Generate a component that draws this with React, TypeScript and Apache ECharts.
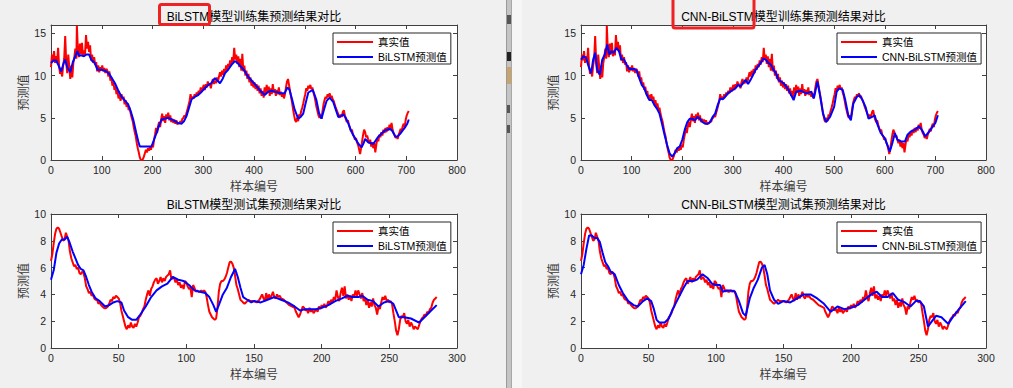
import React, { useEffect, useRef } from "react";
import * as echarts from "echarts";

// ---------------- data (sample index, value) ----------------
const trainTrue: [number, number][] = [
  [0, 11.0], [2, 12.5], [4, 11.8], [6, 12.9], [8, 11.5], [10, 12.3], [12, 11.6], [14, 13.3], [16, 11.0], [18, 10.2],
  [20, 10.6], [22, 9.9], [24, 11.2], [26, 12.0], [28, 14.7], [30, 11.5], [32, 10.3], [34, 12.5], [36, 11.0], [38, 9.6],
  [40, 11.2], [42, 9.8], [44, 11.5], [46, 12.2], [48, 13.2], [50, 12.0], [51, 15.9], [53, 13.0], [55, 12.2], [57, 13.8],
  [59, 12.5], [61, 13.9], [63, 12.3], [65, 13.0], [67, 12.4], [69, 14.8], [71, 13.2], [73, 14.0], [75, 12.8], [77, 13.6],
  [79, 11.8], [81, 12.5], [83, 11.5], [85, 12.2], [87, 11.3], [89, 11.6], [91, 10.5], [93, 11.2], [95, 10.4], [97, 11.0],
  [99, 10.6], [101, 11.2], [103, 10.5], [105, 10.9], [107, 10.3], [109, 10.8], [111, 10.6], [113, 9.9], [115, 10.5], [117, 9.4],
  [119, 9.8], [121, 8.8], [123, 9.2], [125, 8.3], [127, 8.7], [129, 7.8], [131, 8.2], [133, 7.3], [135, 7.7], [137, 7.0],
  [139, 7.8], [141, 7.2], [143, 7.5], [145, 6.6], [147, 7.1], [149, 6.3], [151, 6.7], [153, 5.9], [155, 6.2], [157, 5.5],
  [159, 5.0], [161, 4.6], [163, 3.9], [165, 3.3], [167, 2.8], [169, 2.0], [171, 1.4], [173, 0.9], [175, 0.3], [177, 0.0],
  [179, 0.0], [181, 0.1], [183, 0.4], [185, 0.8], [187, 1.2], [189, 0.9], [191, 1.4], [193, 1.1], [195, 1.6], [197, 1.2],
  [199, 1.8], [201, 1.5], [203, 2.4], [205, 3.0], [207, 3.8], [209, 3.2], [211, 4.0], [213, 4.5], [215, 3.9], [217, 4.8],
  [219, 5.5], [221, 4.6], [223, 5.2], [225, 4.4], [227, 5.4], [229, 4.9], [231, 5.6], [233, 4.7], [235, 5.3], [237, 4.5],
  [239, 4.9], [241, 4.4], [243, 4.8], [245, 4.3], [247, 4.7], [249, 4.2], [251, 4.4], [253, 4.3], [255, 4.6], [257, 4.5],
  [259, 4.9], [261, 5.0], [263, 5.3], [265, 5.1], [267, 5.6], [269, 6.0], [271, 6.5], [273, 7.0], [275, 7.8], [277, 7.2],
  [279, 7.5], [281, 7.3], [283, 7.8], [285, 7.5], [287, 8.0], [289, 7.7], [291, 8.2], [293, 7.9], [295, 8.6], [297, 8.1],
  [299, 8.5], [301, 8.9], [303, 8.3], [305, 9.0], [307, 8.6], [309, 9.3], [311, 8.9], [313, 9.0], [315, 8.5], [317, 9.2],
  [319, 9.6], [321, 9.0], [323, 9.4], [325, 9.1], [327, 9.8], [329, 9.3], [331, 9.9], [333, 10.4], [335, 9.9], [337, 10.6],
  [339, 10.1], [341, 10.8], [343, 10.3], [345, 11.2], [347, 10.7], [349, 11.4], [351, 11.0], [353, 11.8], [355, 11.3], [357, 12.2],
  [359, 11.6], [361, 13.3], [363, 11.9], [365, 12.5], [367, 11.4], [369, 12.3], [371, 11.0], [373, 12.0], [375, 10.6], [377, 12.6],
  [379, 10.5], [381, 11.2], [383, 10.0], [385, 10.6], [387, 9.6], [389, 10.2], [391, 9.2], [393, 9.8], [395, 8.8], [397, 9.4],
  [399, 8.6], [401, 9.2], [403, 8.4], [405, 9.0], [407, 8.2], [409, 8.8], [411, 7.9], [413, 8.5], [415, 7.6], [417, 8.2],
  [419, 7.4], [421, 8.6], [423, 7.8], [425, 8.9], [427, 8.0], [429, 8.7], [431, 7.6], [433, 8.5], [435, 7.8], [437, 9.0],
  [439, 8.0], [441, 8.4], [443, 7.6], [445, 8.3], [447, 7.8], [449, 8.6], [451, 7.7], [453, 8.1], [455, 7.5], [457, 7.9],
  [459, 7.3], [461, 7.8], [463, 8.6], [465, 9.3], [467, 9.6], [469, 8.9], [471, 8.2], [473, 7.5], [475, 6.8], [477, 6.0],
  [479, 5.3], [481, 4.7], [483, 4.5], [485, 5.0], [487, 4.6], [489, 5.4], [491, 5.2], [493, 5.8], [495, 6.2], [497, 6.7],
  [499, 7.3], [501, 7.8], [503, 8.5], [505, 8.2], [507, 8.8], [509, 8.5], [511, 8.9], [513, 8.4], [515, 8.6], [517, 8.0],
  [519, 7.6], [521, 7.0], [523, 6.3], [525, 5.8], [527, 5.3], [529, 5.0], [531, 5.3], [533, 4.9], [535, 5.8], [537, 6.6],
  [539, 7.1], [541, 7.5], [543, 7.3], [545, 7.8], [547, 7.5], [549, 7.9], [551, 7.4], [553, 7.6], [555, 7.2], [557, 7.0],
  [559, 6.6], [561, 6.2], [563, 5.9], [565, 5.6], [567, 5.3], [569, 5.0], [571, 5.4], [573, 5.1], [575, 5.7], [577, 5.9],
  [579, 5.3], [581, 4.8], [583, 4.5], [585, 4.7], [587, 4.2], [589, 3.8], [591, 3.4], [593, 3.6], [595, 3.0], [597, 2.8],
  [599, 2.4], [601, 2.6], [603, 2.1], [605, 1.8], [607, 1.3], [609, 0.7], [611, 1.4], [613, 2.2], [615, 3.0], [617, 3.6],
  [619, 3.3], [621, 2.7], [623, 2.9], [625, 2.4], [627, 2.0], [629, 2.4], [631, 1.6], [633, 2.1], [635, 1.4], [637, 2.0],
  [639, 0.9], [641, 1.8], [643, 2.6], [645, 2.2], [647, 3.0], [649, 2.7], [651, 3.3], [653, 2.9], [655, 3.6], [657, 3.2],
  [659, 3.8], [661, 3.3], [663, 3.9], [665, 3.5], [667, 4.2], [669, 3.7], [671, 4.4], [673, 3.6], [675, 3.2], [677, 3.0],
  [679, 2.6], [681, 2.8], [683, 2.5], [685, 3.0], [687, 3.3], [689, 3.7], [691, 3.4], [693, 4.0], [695, 4.3], [697, 3.9],
  [699, 4.8], [701, 5.3], [703, 5.6], [705, 5.8],
];

const bilstmTrain: [number, number][] = [
  [0, 11.5], [5, 11.8], [10, 11.8], [15, 11.2], [20, 10.5], [25, 11.5], [28, 11.9], [32, 11.0], [38, 10.4], [43, 11.6],
  [48, 12.3], [52, 12.9], [55, 12.4], [60, 12.4], [65, 12.3], [70, 12.5], [75, 12.5], [80, 11.8], [85, 11.6], [92, 10.7],
  [100, 10.7], [109, 10.5], [115, 10.2], [120, 9.7], [126, 9.1], [132, 8.3], [139, 7.5], [145, 7.1], [152, 6.6], [157, 5.8],
  [162, 4.8], [168, 3.2], [172, 2.2], [175, 1.6], [198, 1.6], [203, 2.4], [208, 3.2], [213, 4.1], [218, 4.8], [224, 4.9],
  [231, 5.0], [238, 4.8], [244, 4.6], [250, 4.4], [257, 4.3], [262, 4.6], [267, 5.2], [272, 6.2], [277, 7.2], [284, 7.5],
  [290, 7.7], [297, 8.1], [303, 8.5], [310, 8.9], [316, 9.1], [323, 9.7], [328, 9.4], [333, 9.1], [338, 9.6], [343, 10.3],
  [349, 10.7], [356, 11.3], [362, 11.7], [366, 11.6], [372, 11.2], [380, 10.7], [388, 9.9], [400, 9.1], [411, 8.3], [421, 7.7],
  [428, 8.1], [435, 8.2], [441, 8.1], [448, 8.0], [454, 7.9], [460, 7.9], [466, 8.6], [470, 8.3], [475, 7.2], [480, 6.0],
  [487, 4.9], [492, 5.1], [497, 5.5], [502, 6.8], [507, 8.0], [516, 8.3], [523, 7.1], [528, 5.6], [533, 4.9], [538, 6.0],
  [543, 7.0], [549, 7.4], [556, 6.9], [561, 6.0], [566, 5.1], [571, 5.2], [576, 5.4], [581, 5.0], [586, 4.3], [591, 3.5],
  [596, 2.9], [601, 2.4], [606, 1.9], [612, 1.5], [616, 2.0], [619, 2.5], [625, 2.1], [635, 1.9], [644, 2.7], [651, 3.1],
  [658, 3.5], [668, 3.7], [673, 3.4], [678, 2.8], [683, 2.8], [688, 3.1], [693, 3.5], [698, 3.9], [702, 4.3], [705, 4.8],
];

const cnnTrain: [number, number][] = [
  [0, 11.9], [5, 12.3], [10, 12.1], [15, 11.1], [20, 10.3], [24, 11.9], [28, 12.7], [32, 10.7], [37, 10.1], [42, 11.9],
  [47, 12.5], [52, 13.7], [56, 12.5], [60, 12.9], [65, 12.7], [70, 13.3], [75, 12.9], [80, 11.9], [85, 11.9], [90, 11.3],
  [95, 10.8], [100, 10.8], [105, 10.8], [110, 10.6], [115, 9.7], [120, 8.9], [125, 8.5], [130, 7.7], [135, 7.1], [140, 7.1],
  [145, 6.5], [150, 6.1], [155, 5.5], [160, 4.3], [165, 3.0], [170, 1.8], [175, 0.8], [180, 0.4], [185, 0.8], [190, 1.4],
  [195, 1.6], [200, 2.4], [205, 3.6], [210, 4.5], [215, 4.9], [220, 4.9], [225, 4.7], [230, 5.1], [235, 4.9], [240, 4.5],
  [245, 4.3], [250, 4.3], [255, 4.5], [260, 5.1], [265, 5.5], [270, 6.5], [275, 7.3], [280, 7.2], [285, 7.5], [290, 7.9],
  [295, 8.1], [300, 8.3], [305, 8.5], [310, 8.9], [315, 8.7], [320, 9.1], [325, 9.5], [330, 9.0], [335, 9.5], [340, 10.1],
  [345, 10.7], [350, 11.1], [355, 11.5], [360, 12.0], [365, 11.9], [370, 11.5], [375, 11.3], [380, 10.7], [385, 10.3], [390, 9.5],
  [400, 9.1], [410, 8.3], [420, 7.1], [425, 8.1], [435, 8.2], [445, 7.9], [455, 8.1], [460, 7.3], [467, 9.3], [472, 7.7],
  [478, 5.5], [484, 4.5], [492, 5.1], [500, 6.3], [505, 8.1], [510, 8.5], [517, 8.3], [522, 7.1], [528, 5.3], [533, 4.7],
  [538, 6.7], [545, 7.5], [550, 7.7], [556, 7.1], [562, 6.3], [568, 4.9], [575, 5.1], [580, 5.3], [585, 4.3], [592, 3.2],
  [600, 2.6], [605, 1.8], [610, 1.0], [615, 2.0], [620, 3.2], [625, 2.4], [632, 2.2], [640, 2.2], [645, 3.0], [652, 3.4],
  [660, 3.6], [668, 4.0], [675, 3.4], [680, 2.8], [688, 3.4], [695, 4.0], [700, 4.4], [705, 5.3],
];

const testTrue: [number, number][] = [
  [0, 6.5], [1, 7.0], [2, 7.8], [3, 8.5], [4, 8.9], [5, 9.0], [6, 8.9], [7, 8.6], [8, 8.3], [9, 8.0],
  [10, 8.1], [11, 8.6], [12, 8.3], [13, 8.0], [14, 7.2], [15, 6.7], [16, 6.4], [17, 6.1], [18, 6.2], [19, 5.9],
  [20, 6.0], [21, 5.6], [22, 5.5], [23, 5.7], [24, 5.6], [25, 5.2], [26, 4.6], [27, 4.4], [28, 4.1], [29, 4.2],
  [30, 3.9], [31, 4.0], [32, 3.7], [33, 3.6], [34, 3.6], [35, 3.3], [36, 3.4], [37, 3.2], [38, 3.1], [39, 3.0],
  [40, 2.95], [41, 3.0], [42, 3.1], [43, 3.3], [44, 3.6], [45, 3.5], [46, 3.8], [47, 3.7], [48, 3.9], [49, 3.8],
  [50, 3.7], [51, 3.4], [52, 2.8], [53, 2.4], [54, 2.0], [55, 1.6], [56, 1.4], [57, 1.7], [58, 1.5], [59, 1.9],
  [60, 1.6], [61, 1.5], [62, 1.8], [63, 1.6], [64, 1.9], [65, 2.3], [66, 2.4], [67, 2.6], [68, 2.9], [69, 3.1],
  [70, 3.6], [71, 4.0], [72, 4.3], [73, 3.9], [74, 4.4], [75, 4.6], [76, 4.9], [77, 5.1], [78, 5.2], [79, 4.8],
  [80, 5.0], [81, 5.3], [82, 4.9], [83, 5.2], [84, 5.0], [85, 5.3], [86, 5.4], [87, 5.5], [88, 5.8], [89, 5.1],
  [90, 5.3], [91, 5.2], [92, 4.9], [93, 5.1], [94, 4.7], [95, 4.9], [96, 4.5], [97, 4.7], [98, 4.4], [99, 5.0],
  [100, 4.9], [101, 4.6], [102, 4.4], [103, 4.5], [104, 3.8], [105, 4.7], [106, 4.5], [107, 4.2], [108, 4.3], [109, 4.2],
  [110, 4.2], [111, 4.3], [112, 4.2], [113, 4.3], [114, 4.2], [115, 3.8], [116, 3.2], [117, 2.7], [118, 2.5], [119, 2.3],
  [120, 2.2], [121, 2.1], [122, 2.2], [123, 3.0], [124, 4.2], [125, 4.8], [126, 5.0], [127, 5.0], [128, 5.1], [129, 5.3],
  [130, 5.6], [131, 6.0], [132, 6.4], [133, 6.45], [134, 6.3], [135, 6.0], [136, 5.4], [137, 4.7], [138, 4.4], [139, 4.0],
  [140, 3.6], [141, 3.5], [142, 3.4], [143, 3.3], [144, 3.4], [145, 3.5], [146, 3.6], [147, 3.5], [150, 3.5], [152, 3.4],
  [154, 3.6], [156, 4.0], [157, 3.7], [158, 3.5], [159, 4.1], [160, 3.6], [161, 4.0], [162, 3.7], [163, 3.9], [164, 4.2],
  [165, 3.8], [166, 3.7], [167, 4.0], [168, 3.8], [169, 3.9], [170, 3.7], [172, 3.6], [174, 3.4], [176, 3.2], [178, 3.1],
  [180, 3.0], [181, 2.7], [183, 2.3], [184, 2.5], [185, 2.8], [186, 3.1], [187, 3.0], [188, 2.8], [189, 2.9], [190, 2.6],
  [191, 3.0], [192, 2.7], [193, 2.9], [194, 2.6], [196, 2.9], [197, 2.7], [198, 3.1], [199, 2.9], [200, 3.2], [201, 3.0],
  [202, 3.3], [203, 3.0], [204, 3.2], [205, 3.5], [206, 3.3], [207, 3.6], [208, 3.4], [209, 3.8], [210, 3.6], [211, 4.3],
  [212, 3.8], [213, 3.5], [214, 4.1], [215, 4.5], [216, 3.9], [217, 4.6], [218, 3.7], [219, 4.0], [220, 3.6], [221, 3.9],
  [222, 3.5], [223, 4.0], [224, 3.8], [225, 4.3], [226, 3.9], [227, 4.3], [228, 4.0], [229, 3.7], [230, 4.1], [231, 3.5],
  [232, 3.7], [233, 3.2], [234, 3.6], [235, 3.0], [236, 3.4], [237, 3.1], [238, 3.7], [239, 3.2], [240, 3.0], [241, 2.5],
  [242, 3.1], [243, 2.9], [244, 3.4], [245, 3.8], [246, 3.6], [247, 3.9], [248, 3.5], [249, 3.6], [250, 3.4], [251, 3.5],
  [252, 3.3], [253, 2.6], [254, 2.0], [255, 1.3], [256, 0.95], [257, 1.4], [258, 2.1], [259, 2.4], [260, 2.3], [261, 2.6],
  [262, 2.0], [263, 1.8], [264, 2.1], [265, 1.6], [266, 1.9], [267, 1.7], [268, 1.4], [269, 1.6], [270, 1.5], [271, 1.4],
  [272, 1.7], [273, 2.0], [274, 2.2], [275, 2.3], [276, 2.5], [277, 2.4], [278, 2.7], [279, 2.6], [280, 2.9], [281, 3.0],
  [282, 3.4], [283, 3.6], [284, 3.7], [285, 3.8],
];

const bilstmTest: [number, number][] = [
  [0, 5.1], [2, 5.8], [4, 7.1], [6, 7.8], [8, 8.1], [10, 8.1], [12, 8.3], [14, 7.8], [16, 7.2], [18, 6.7],
  [20, 6.2], [22, 5.9], [24, 5.8], [26, 5.3], [28, 4.7], [30, 4.2], [33, 3.7], [36, 3.5], [40, 3.1], [43, 3.2],
  [46, 3.4], [49, 3.5], [52, 3.4], [54, 2.8], [57, 2.3], [60, 2.1], [63, 2.1], [66, 2.5], [70, 3.1], [74, 3.8],
  [78, 4.3], [82, 4.6], [86, 4.8], [90, 5.3], [94, 5.1], [98, 5.0], [102, 4.7], [106, 4.3], [110, 4.2], [114, 4.1],
  [117, 3.8], [120, 3.2], [122, 2.7], [124, 3.2], [127, 4.0], [130, 4.5], [133, 5.3], [136, 5.9], [138, 5.3], [140, 4.5],
  [142, 3.8], [145, 3.6], [148, 3.4], [150, 3.5], [155, 3.4], [160, 3.6], [165, 3.8], [170, 3.6], [175, 3.4], [180, 3.1],
  [184, 2.8], [188, 2.9], [192, 2.9], [196, 2.9], [200, 3.0], [205, 3.2], [210, 3.5], [215, 3.7], [219, 3.9], [223, 3.8],
  [227, 3.8], [230, 3.9], [234, 3.6], [238, 3.5], [242, 3.1], [246, 3.4], [250, 3.5], [253, 3.3], [257, 2.3], [261, 2.3],
  [266, 2.2], [272, 1.9], [276, 2.3], [280, 2.7], [285, 3.2],
];

const cnnTest: [number, number][] = [
  [0, 5.5], [2, 6.2], [4, 7.4], [6, 8.4], [8, 8.4], [10, 8.2], [12, 8.2], [14, 7.9], [16, 7.1], [18, 6.4],
  [20, 6.1], [22, 5.7], [25, 5.5], [28, 4.7], [31, 4.1], [35, 3.5], [39, 3.2], [42, 3.1], [46, 3.5], [49, 3.7],
  [52, 3.5], [54, 2.9], [56, 2.1], [58, 1.9], [62, 1.9], [65, 2.2], [68, 2.9], [72, 3.7], [76, 4.5], [79, 5.0],
  [83, 5.0], [86, 5.1], [90, 5.5], [94, 5.2], [97, 4.8], [100, 4.7], [103, 4.7], [105, 4.2], [108, 4.3], [111, 4.3],
  [114, 4.2], [117, 3.5], [120, 2.6], [122, 2.4], [125, 3.7], [128, 4.5], [131, 5.1], [134, 6.0], [136, 6.2], [138, 5.5],
  [140, 4.3], [143, 3.6], [146, 3.3], [150, 3.5], [155, 3.4], [160, 3.7], [165, 4.0], [170, 4.0], [175, 3.7], [180, 3.3],
  [185, 2.7], [190, 3.1], [195, 2.9], [200, 3.0], [205, 3.2], [210, 3.6], [215, 4.0], [219, 4.2], [223, 3.8], [227, 3.8],
  [231, 4.1], [235, 3.6], [240, 3.4], [244, 3.1], [248, 3.5], [251, 3.5], [254, 3.1], [257, 1.6], [260, 2.0], [263, 2.4],
  [267, 2.3], [272, 1.8], [276, 2.4], [280, 2.9], [285, 3.5],
];

const trainXTicks = { min: 0, max: 800, interval: 100 };
const testXTicks = { min: 0, max: 300, interval: 50 };
const trainYTicks = { min: 0, max: 16, interval: 5 };
const testYTicks = { min: 0, max: 10, interval: 2 };

const titles = [
  "BiLSTM模型训练集预测结果对比",
  "BiLSTM模型测试集预测结果对比",
  "CNN-BiLSTM模型训练集预测结果对比",
  "CNN-BiLSTM模型测试集预测结果对比",
];
const trueName = "真实值";
const bilstmName = "BiLSTM预测值";
const cnnName = "CNN-BiLSTM预测值";
const xName = "样本编号";
const yName = "预测值";

// ---------------- layout ----------------
const FONT = "'Liberation Sans', Arial, 'Noto Sans CJK SC', sans-serif";
const AX = "#404040";
const grids = [
  { left: 51, top: 25, width: 406, height: 135 },
  { left: 51, top: 214, width: 406, height: 134 },
  { left: 581, top: 25, width: 405, height: 135 },
  { left: 581, top: 214, width: 405, height: 134 },
];

export default function App() {
  const ref = useRef<HTMLDivElement>(null);
  useEffect(() => {
    if (!ref.current) return;
    const chart = echarts.init(ref.current, null, { renderer: "svg" });
    const xSpecs = [trainXTicks, testXTicks, trainXTicks, testXTicks];
    const ySpecs = [trainYTicks, testYTicks, trainYTicks, testYTicks];

    const xAxis: any[] = [];
    const yAxis: any[] = [];
    for (let i = 0; i < 4; i++) {
      xAxis.push({
        type: "value", gridIndex: i, position: "bottom", ...xSpecs[i],
        name: xName, nameLocation: "middle", nameGap: 21,
        nameTextStyle: { color: "#3c3c3c", fontSize: 12, fontFamily: FONT },
        axisLine: { show: true, onZero: false, lineStyle: { color: AX, width: 1 } },
        axisTick: { show: true, inside: true, length: 4, lineStyle: { color: AX } },
        axisLabel: { color: "#262626", fontSize: 10.5, margin: 5, fontFamily: FONT },
        splitLine: { show: false },
      });
      yAxis.push({
        type: "value", gridIndex: i, position: "left", ...ySpecs[i],
        name: yName, nameLocation: "middle", nameGap: 14, nameRotate: 90,
        nameTextStyle: { color: "#3c3c3c", fontSize: 12, fontFamily: FONT },
        axisLine: { show: true, onZero: false, lineStyle: { color: AX, width: 1 } },
        axisTick: { show: true, inside: true, length: 4, lineStyle: { color: AX } },
        axisLabel: { color: "#262626", fontSize: 10.5, margin: 5, fontFamily: FONT, showMaxLabel: ySpecs[i].max % ySpecs[i].interval === 0 },
        splitLine: { show: false },
      });
    }
    for (let i = 0; i < 4; i++) {
      xAxis.push({
        type: "value", gridIndex: i, position: "top", ...xSpecs[i],
        axisLine: { show: true, onZero: false, lineStyle: { color: AX, width: 1 } },
        axisTick: { show: true, inside: true, length: 4, lineStyle: { color: AX } },
        axisLabel: { show: false }, splitLine: { show: false },
      });
      yAxis.push({
        type: "value", gridIndex: i, position: "right", ...ySpecs[i],
        axisLine: { show: true, onZero: false, lineStyle: { color: AX, width: 1 } },
        axisTick: { show: true, inside: true, length: 4, lineStyle: { color: AX } },
        axisLabel: { show: false }, splitLine: { show: false },
      });
    }

    const line = (name: string, data: [number, number][], idx: number, color: string) => ({
      type: "line", name, data, xAxisIndex: idx, yAxisIndex: idx,
      symbol: "none", showSymbol: false, smooth: false,
      lineStyle: { color, width: 2 }, itemStyle: { color },
      emphasis: { disabled: true }, silent: true,
    });

    const series = [
      line(trueName, trainTrue, 0, "#ff0000"),
      line(bilstmName, bilstmTrain, 0, "#0000ff"),
      line(trueName, testTrue, 1, "#ff0000"),
      line(bilstmName, bilstmTest, 1, "#0000ff"),
      line(trueName, trainTrue, 2, "#ff0000"),
      line(cnnName, cnnTrain, 2, "#0000ff"),
      line(trueName, testTrue, 3, "#ff0000"),
      line(cnnName, cnnTest, 3, "#0000ff"),
    ];

    const legend = (left: number, top: number, names: string[]) => ({
      left, top, orient: "vertical", data: names,
      icon: "rect", itemWidth: 36, itemHeight: 2, itemGap: 3,
      padding: [3, 4, 1, 4], backgroundColor: "#ffffff",
      borderColor: "#262626", borderWidth: 1, borderRadius: 0,
      selectedMode: false,
      textStyle: { color: "#000", fontSize: 10.5, lineHeight: 12, fontFamily: FONT },
    });

    const titleText = (x: number, y: number, text: string) => ({
      type: "text", x, y, silent: true,
      style: { text, fill: "#000", font: `12px ${FONT}`, textAlign: "center", textVerticalAlign: "middle" },
    });

    const graphic: any[] = [
      // window divider strip
      { type: "rect", shape: { x: 506, y: 0, width: 6, height: 388 }, style: { fill: "#c4c4c4" }, silent: true },
      { type: "line", shape: { x1: 506.5, y1: 0, x2: 506.5, y2: 388 }, style: { stroke: "#9a9a9a", lineWidth: 1 }, silent: true },
      { type: "line", shape: { x1: 511.5, y1: 0, x2: 511.5, y2: 388 }, style: { stroke: "#a8a8a8", lineWidth: 1 }, silent: true },
      { type: "rect", shape: { x: 512, y: 0, width: 10, height: 388 }, style: { fill: "#f6f6f6" }, silent: true },
      // tiny toolbar icons in the strip
      { type: "rect", shape: { x: 507, y: 15, width: 4, height: 9 }, style: { fill: "#555" }, silent: true },
      { type: "rect", shape: { x: 507, y: 52, width: 4, height: 9 }, style: { fill: "#222" }, silent: true },
      { type: "rect", shape: { x: 507, y: 67, width: 4, height: 17 }, style: { fill: "#c9a46a" }, silent: true },
      { type: "rect", shape: { x: 507, y: 105, width: 3, height: 8 }, style: { fill: "#555" }, silent: true },
      { type: "rect", shape: { x: 507, y: 125, width: 3, height: 8 }, style: { fill: "#555" }, silent: true },
      // titles
      titleText(254, 17, titles[0]),
      titleText(254, 205, titles[1]),
      titleText(783.5, 17, titles[2]),
      titleText(783.5, 205, titles[3]),
      // red highlight boxes
      { type: "rect", shape: { x: 159.5, y: 4.5, width: 50, height: 20, r: 2 }, style: { fill: "none", stroke: "#ee2222", lineWidth: 3 }, silent: true, z: 10 },
      { type: "rect", shape: { x: 673, y: -4, width: 81, height: 32, r: 2 }, style: { fill: "none", stroke: "#ee2222", lineWidth: 3 }, silent: true, z: 10 },
    ];

    chart.setOption({
      animation: false,
      backgroundColor: "#f0f0f0",
      grid: grids.map((g) => ({ ...g, show: true, backgroundColor: "#ffffff", borderWidth: 0 })),
      xAxis, yAxis, series,
      legend: [
        legend(333, 33, [trueName, bilstmName]),
        legend(333, 222, [trueName, bilstmName]),
        legend(837, 33, [trueName, cnnName]),
        legend(837, 222, [trueName, cnnName]),
      ],
      graphic,
    });
    return () => chart.dispose();
  }, []);
  return <div ref={ref} style={{ position: "fixed", left: 0, top: 0, width: 1013, height: 388 }} />;
}
